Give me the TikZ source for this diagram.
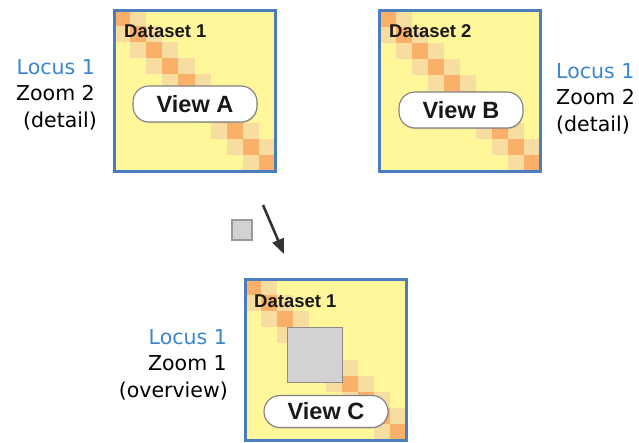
\documentclass[tikz,border=0pt]{standalone}
\usepackage{fontspec}
\setmainfont{Liberation Sans}
\newfontfamily\lblfont{DejaVu Sans}
\usetikzlibrary{arrows.meta,shadows}

\definecolor{panelblue}{HTML}{4A7DBE}
\definecolor{panelfill}{HTML}{FFF79A}
\definecolor{cellhi}{HTML}{FBB06A}
\definecolor{celllo}{HTML}{F8DDA0}
\definecolor{locusblue}{HTML}{3A86D0}
\definecolor{selgray}{HTML}{D2D2D2}
\definecolor{selline}{HTML}{8C8C8C}
\definecolor{pillline}{HTML}{808080}
\definecolor{arrowgray}{HTML}{333333}

% size of one heat-map cell
\def\cs{16.1}

% tridiagonal heat map inside a panel node, border stroked on top
\newcommand\heatcells[1]{%
  \begin{scope}[shift={(#1.north west)}]
    \foreach \i in {0,...,9} {
      \fill[cellhi] ({\i*\cs},{\i*\cs}) rectangle ++(\cs,\cs);
    }
    \foreach \i in {0,...,8} {
      \fill[celllo] ({(\i+1)*\cs},{\i*\cs}) rectangle ++(\cs,\cs);
      \fill[celllo] ({\i*\cs},{(\i+1)*\cs}) rectangle ++(\cs,\cs);
    }
  \end{scope}
  \draw[panelborder] (#1.north west) rectangle (#1.south east);
}

\tikzset{
  panelborder/.style={draw=panelblue, line width=3pt},
  heatpanel/.style={fill=panelfill, outer sep=0pt,
    minimum width=161pt, minimum height=161pt, inner sep=0pt},
  dstitle/.style={anchor=base west, inner sep=0pt, text=black!90,
    font=\fontsize{18.5}{20}\selectfont\bfseries},
  viewpill/.style={draw=pillline, line width=1.1pt, fill=white,
    rounded corners=16pt, minimum width=124pt, minimum height=#1,
    inner sep=0pt, text=black!90,
    font=\fontsize{23.5}{25}\selectfont\bfseries,
    drop shadow={opacity=0.25, shadow xshift=0.6pt, shadow yshift=-1.2pt}},
  lbl/.style={inner sep=0pt, font=\lblfont\fontsize{20.5}{22}\selectfont},
  locus/.style={lbl, text=locusblue},
  zoomsel/.style={draw=selline, line width=1.2pt, fill=selgray,
    minimum size=55pt, inner sep=0pt},
  smallsel/.style={draw=gray!80, line width=1.8pt, fill=selgray,
    minimum size=20pt, inner sep=0pt},
  zoomarrow/.style={draw=arrowgray, line width=2.6pt,
    -{Triangle[length=15pt,width=12pt]}}
}

\begin{document}
\begin{tikzpicture}[x=1pt, y=-1pt]
  \useasboundingbox (0,0) rectangle (639,442);

  % the three heat-map panels
  \node[heatpanel] (pA) at (194.5,90.5) {};
  \node[heatpanel] (pB) at (460,91) {};
  \node[heatpanel] (pC) at (325.5,359.5) {};
  \heatcells{pA}
  \heatcells{pB}
  \heatcells{pC}

  % dataset titles
  \node[dstitle] (tA) at (124,37) {Dataset 1};
  \node[dstitle] (tB) at (389,37) {Dataset 2};
  \node[dstitle] (tC) at (254,307) {Dataset 1};

  % zoomed region shown inside the overview
  \node[zoomsel] (selC) at (315,355) {};

  % view labels
  \node[viewpill=36pt] (vA) at (195,104) {View A};
  \node[viewpill=36pt] (vB) at (461,110) {View B};
  \node[viewpill=32pt] (vC) at (326,411.5) {View C};

  % side captions
  \node[locus, anchor=base east] (lA1) at (95,74) {Locus 1};
  \node[lbl, anchor=base east] (lA2) at (95,100.5) {Zoom 2};
  \node[lbl, anchor=base east] (lA3) at (97,127) {(detail)};

  \node[locus, anchor=base west] (lB1) at (556,78) {Locus 1};
  \node[lbl, anchor=base west] (lB2) at (556,104.5) {Zoom 2};
  \node[lbl, anchor=base west] (lB3) at (556,131) {(detail)};

  \node[locus, anchor=base east] (lC1) at (227,344) {Locus 1};
  \node[lbl, anchor=base east] (lC2) at (227,370.5) {Zoom 1};
  \node[lbl, anchor=base east] (lC3) at (228,397) {(overview)};

  % small selection marker and zoom-out arrow
  \node[smallsel] (sq) at (242,230) {};
  \coordinate (arS) at (263,205);
  \coordinate (arE) at (284,254);
  \draw[zoomarrow] (arS) -- (arE);
\end{tikzpicture}
\end{document}
